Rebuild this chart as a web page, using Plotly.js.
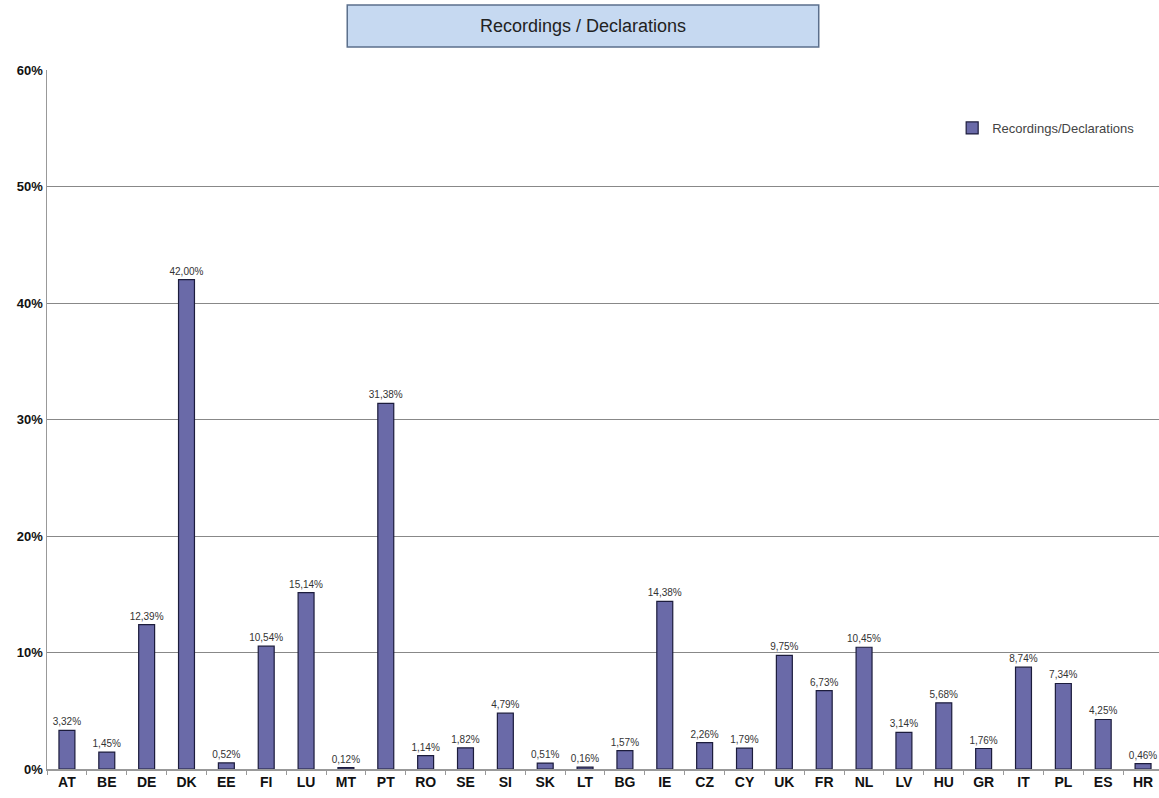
<!DOCTYPE html>
<html><head><meta charset="utf-8">
<script src="https://cdn.plot.ly/plotly-3.0.1.min.js"></script>
<style>html,body{margin:0;padding:0;overflow:hidden;background:#fff}</style>
</head><body><div id="chart" style="width:1159px;height:798px"></div>
<script>
const countries = ["AT","BE","DE","DK","EE","FI","LU","MT","PT","RO","SE","SI","SK","LT","BG","IE","CZ","CY","UK","FR","NL","LV","HU","GR","IT","PL","ES","HR"];
const ratios = [3.32,1.45,12.39,42.00,0.52,10.54,15.14,0.12,31.38,1.14,1.82,4.79,0.51,0.16,1.57,14.38,2.26,1.79,9.75,6.73,10.45,3.14,5.68,1.76,8.74,7.34,4.25,0.46];
const seriesName = "Recordings/Declarations";
const chartTitle = "Recordings / Declarations";

const trace = {
  type: 'bar', x: countries, y: ratios, name: seriesName,
  marker: {color: '#6a6aa8', line: {color: '#1c1c3c', width: 1.2}},
  texttemplate: '%{y:.2f}%', textposition: 'outside', constraintext: 'none', cliponaxis: false,
  textfont: {family: 'Liberation Sans, Arial', size: 10, color: '#333'},
  hoverinfo: 'x+y'
};
const layout = {
  width: 1159, height: 798,
  margin: {l: 47, r: 0, t: 70, b: 29},
  separators: ',.',
  paper_bgcolor: '#fff', plot_bgcolor: '#fff',
  bargap: 0.6,
  showlegend: true,
  legend: {x: 0.814, y: 0.917, xanchor: 'left', yanchor: 'middle', bgcolor: 'rgba(0,0,0,0)',
           font: {family: 'Liberation Sans, Arial', size: 13, color: '#444'}, itemwidth: 30},
  xaxis: {type: 'category', range: [-0.5, 27.4], showline: true, linecolor: '#999', linewidth: 1.5,
          ticks: 'outside', tickson: 'boundaries', ticklen: 4, tickcolor: '#999',
          tickfont: {family: 'Liberation Sans, Arial', size: 14, color: '#111', weight: 'bold'}, showgrid: false},
  yaxis: {range: [0, 60], dtick: 10, ticksuffix: '%', showline: true, linecolor: '#999', linewidth: 1.5,
          gridcolor: '#888', gridwidth: 1, zeroline: false, ticks: '',
          tickfont: {family: 'Liberation Sans, Arial', size: 13, color: '#111', weight: 'bold'}},
  shapes: [{type: 'rect', xref: 'paper', yref: 'paper', x0: 0.270, x1: 0.694, y0: 1.033, y1: 1.093,
            fillcolor: '#c6d9f1', line: {color: '#5b6f8c', width: 1.5}, layer: 'above'}],
  annotations: [{xref: 'paper', yref: 'paper', x: 0.482, y: 1.063, xanchor: 'center', yanchor: 'middle',
                 text: chartTitle, showarrow: false,
                 font: {family: 'Liberation Sans, Arial', size: 18, color: '#222'}}]
};
Plotly.newPlot('chart', [trace], layout, {displayModeBar: false, staticPlot: true});
</script></body></html>
